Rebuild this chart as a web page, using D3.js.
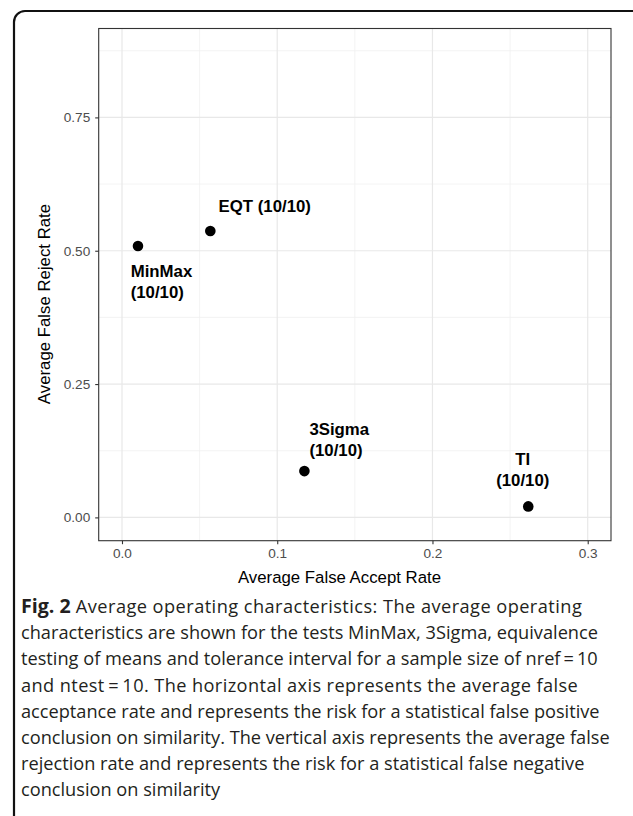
<!DOCTYPE html>
<html>
<head>
<meta charset="utf-8">
<script src="https://cdn.jsdelivr.net/npm/d3@7/dist/d3.min.js"></script>
<style>
  html, body { margin: 0; padding: 0; background: #fff; }
  svg { display: block; }
</style>
</head>
<body>
<script>
// Operating characteristics per test (nref = 10, ntest = 10)
const tests = ["MinMax", "EQT", "3Sigma", "TI"];
const falseAcceptRate = [0.0103, 0.0569, 0.1175, 0.2617];
const falseRejectRate = [0.509, 0.537, 0.0868, 0.0206];
const sampleLabel = ["(10/10)", "(10/10)", "(10/10)", "(10/10)"];

const xTicks = [0.0, 0.1, 0.2, 0.3];
const xTickLabels = ["0.0", "0.1", "0.2", "0.3"];
const yTicks = [0.0, 0.25, 0.5, 0.75];
const yTickLabels = ["0.00", "0.25", "0.50", "0.75"];
const xMinor = [0.05, 0.15, 0.25];
const yMinor = [0.125, 0.375, 0.625, 0.875];

const captionLines = [
  "Average operating characteristics: The average operating",
  "characteristics are shown for the tests MinMax, 3Sigma, equivalence",
  "testing of means and tolerance interval for a sample size of nref\u2009=\u200910",
  "and ntest\u2009=\u200910. The horizontal axis represents the average false",
  "acceptance rate and represents the risk for a statistical false positive",
  "conclusion on similarity. The vertical axis represents the average false",
  "rejection rate and represents the risk for a statistical false negative",
  "conclusion on similarity"
];
// extra tracking for the looser caption lines (px)
const captionTracking = [0.45, 0, 0, 0.4, 0, 0, 0, 0];

const W = 633, H = 816;
const panel = { left: 98.7, right: 611, top: 28.5, bottom: 540.7 };

const svg = d3.select("body").append("svg")
  .attr("width", W).attr("height", H)
  .attr("viewBox", `0 0 ${W} ${H}`);

svg.append("rect").attr("width", W).attr("height", H).attr("fill", "#fff");

// rounded figure frame
svg.append("rect")
  .attr("x", 14).attr("y", 11)
  .attr("width", 630).attr("height", 830)
  .attr("rx", 11).attr("ry", 11)
  .attr("fill", "none").attr("stroke", "#111").attr("stroke-width", 2.2);

const x = d3.scaleLinear().domain([-0.015, 0.315]).range([panel.left, panel.right]);
const y = d3.scaleLinear().domain([-0.0437, 0.9167]).range([panel.bottom, panel.top]);

const g = svg.append("g");

// minor grid
g.selectAll("line.xminor").data(xMinor).join("line")
  .attr("x1", d => x(d)).attr("x2", d => x(d))
  .attr("y1", panel.top).attr("y2", panel.bottom)
  .attr("stroke", "#f0f0f0").attr("stroke-width", 0.8);
g.selectAll("line.yminor").data(yMinor).join("line")
  .attr("y1", d => y(d)).attr("y2", d => y(d))
  .attr("x1", panel.left).attr("x2", panel.right)
  .attr("stroke", "#f0f0f0").attr("stroke-width", 0.8);
// major grid
g.selectAll("line.xmajor").data(xTicks).join("line")
  .attr("x1", d => x(d)).attr("x2", d => x(d))
  .attr("y1", panel.top).attr("y2", panel.bottom)
  .attr("stroke", "#e8e8e8").attr("stroke-width", 1.2);
g.selectAll("line.ymajor").data(yTicks).join("line")
  .attr("y1", d => y(d)).attr("y2", d => y(d))
  .attr("x1", panel.left).attr("x2", panel.right)
  .attr("stroke", "#e8e8e8").attr("stroke-width", 1.2);

// axes
const font = "'Liberation Sans', Arial, Helvetica, sans-serif";
const xAxis = d3.axisBottom(x).tickValues(xTicks)
  .tickFormat((d, i) => xTickLabels[i]).tickSize(3.5).tickPadding(4);
const yAxis = d3.axisLeft(y).tickValues(yTicks)
  .tickFormat((d, i) => yTickLabels[i]).tickSize(3.5).tickPadding(5);

const gx = svg.append("g").attr("transform", `translate(0,${panel.bottom})`).call(xAxis);
const gy = svg.append("g").attr("transform", `translate(${panel.left},0)`).call(yAxis);
[gx, gy].forEach(a => {
  a.select(".domain").remove();
  a.selectAll(".tick line").attr("stroke", "#333").attr("stroke-width", 1.1);
  a.selectAll(".tick text").attr("fill", "#4d4d4d")
    .style("font-family", font).style("font-size", "13.6px");
});

// panel border
svg.append("rect")
  .attr("x", panel.left).attr("y", panel.top)
  .attr("width", panel.right - panel.left).attr("height", panel.bottom - panel.top)
  .attr("fill", "none").attr("stroke", "#333").attr("stroke-width", 1.1);

// axis titles
svg.append("text")
  .attr("x", 339.5).attr("y", 583.3)
  .attr("text-anchor", "middle")
  .style("font-family", font).style("font-size", "16.8px").attr("fill", "#000")
  .text("Average False Accept Rate");
svg.append("text")
  .attr("transform", "translate(50.3,304) rotate(-90)")
  .attr("text-anchor", "middle")
  .style("font-family", font).style("font-size", "16.8px").attr("fill", "#000")
  .text("Average False Reject Rate");

// points
const data = tests.map((t, i) => ({
  name: t, sub: sampleLabel[i], fa: falseAcceptRate[i], fr: falseRejectRate[i]
}));

svg.append("g").selectAll("circle").data(data).join("circle")
  .attr("cx", d => x(d.fa)).attr("cy", d => y(d.fr))
  .attr("r", 5.3).attr("fill", "#000");

// label placement relative to each point (pixels)
const labelStyle = {
  MinMax: { dx: -7.3, dy: 31, anchor: "start", twoLines: true },
  EQT:    { dx: 8.3, dy: -18.7, anchor: "start", twoLines: false },
  "3Sigma": { dx: 5, dy: -36, anchor: "start", twoLines: true },
  TI:     { dx: -5.5, dy: -41.3, anchor: "middle", twoLines: true }
};
const lineGap = 21;

const labels = svg.append("g").selectAll("text").data(data).join("text")
  .attr("x", d => x(d.fa) + labelStyle[d.name].dx)
  .attr("y", d => y(d.fr) + labelStyle[d.name].dy)
  .attr("text-anchor", d => labelStyle[d.name].anchor)
  .style("font-family", font).style("font-size", "16.8px").style("font-weight", "bold")
  .attr("fill", "#000");
labels.each(function(d) {
  const t = d3.select(this);
  const s = labelStyle[d.name];
  if (s.twoLines) {
    t.append("tspan").attr("x", x(d.fa) + s.dx).text(d.name);
    t.append("tspan").attr("x", x(d.fa) + s.dx).attr("dy", lineGap).text(d.sub);
  } else {
    t.text(d.name + " " + d.sub);
  }
});

// caption
const capFont = "'Open Sans', 'Noto Sans', sans-serif";
const cap = svg.append("g").style("font-family", capFont).style("font-size", "18.2px").attr("fill", "#231f20");
const capTop = 613, capStep = 26.2;
captionLines.forEach((line, i) => {
  const t = cap.append("text").attr("x", 21).attr("y", capTop + i * capStep)
    .style("letter-spacing", captionTracking[i] + "px");
  if (i === 0) {
    t.append("tspan").style("font-weight", "bold").style("font-size", "19.6px")
      .style("letter-spacing", "0px").text("Fig. 2");
    t.append("tspan").text(" " + line);
  } else {
    t.text(line);
  }
});
</script>
</body>
</html>
